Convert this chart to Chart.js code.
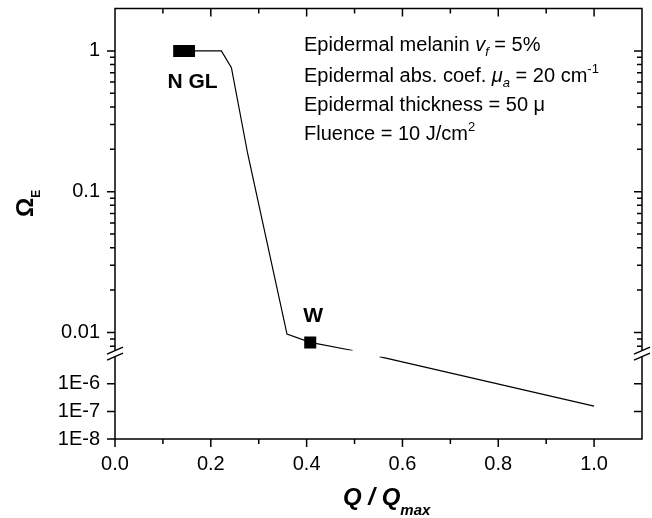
<!DOCTYPE html>
<html>
<head>
<meta charset="utf-8">
<script src="https://cdn.jsdelivr.net/npm/chart.js@4.4.1/dist/chart.umd.min.js"></script>
<style>
  body { margin: 0; background: #fff; }
  #wrap { width: 652px; height: 518px; }
</style>
</head>
<body>
<div id="wrap"><canvas id="chart"></canvas></div>
<script>
// values
const curveUpperX = [0.134, 0.222, 0.243, 0.277, 0.359, 0.4075, 0.496];
const curveUpperY = [1, 1, 0.76, 0.186, 0.00975, 0.0085, 0.00745];
const curveLowerX = [0.552, 1.0];
const curveLowerY = [9.6e-6, 1.56e-7];
const nglX = [0.134, 0.1545];
const nglY = [1, 1];
const wX = [0.4075];
const wY = [0.0085];

// axes
const xTicks = [0, 0.2, 0.4, 0.6, 0.8, 1.0];
const xMinor = [0.1, 0.3, 0.5, 0.7, 0.9];
const yUpperTicks = [0.01, 0.1, 1];
const yUpperLabels = ["0.01", "0.1", "1"];
const yUpperMinor = [0.008, 0.009,
  0.02, 0.03, 0.04, 0.05, 0.06, 0.07, 0.08, 0.09,
  0.2, 0.3, 0.4, 0.5, 0.6, 0.7, 0.8, 0.9];
const yLowerTicks = [1e-8, 1e-7, 1e-6];
const yLowerLabels = ["1E-8", "1E-7", "1E-6"];

const FONT = '"Liberation Sans", Arial, sans-serif';
Chart.defaults.font.family = FONT;
Chart.defaults.color = "#000";

// draw a row of text pieces (sub/superscripts, italics)
function drawRuns(ctx, x, y, runs) {
  for (const r of runs) {
    ctx.font = r.f;
    ctx.fillText(r.t, x, y + (r.dy || 0));
    x += ctx.measureText(r.t).width;
  }
}

const frame = {
  id: "frame",
  afterDraw(chart) {
    const { ctx, chartArea: a, scales } = chart;
    const xs = scales.x, yu = scales.y, yl = scales.y2;
    ctx.save();
    ctx.strokeStyle = "#000";
    ctx.lineWidth = 1.5;
    ctx.beginPath();
    const tickX = (v, len) => {
      const px = xs.getPixelForValue(v);
      ctx.moveTo(px, a.bottom); ctx.lineTo(px, a.bottom + len);
      ctx.moveTo(px, a.top); ctx.lineTo(px, a.top + len);
    };
    const tickY = (sc, v, len) => {
      const py = sc.getPixelForValue(v);
      ctx.moveTo(a.left, py); ctx.lineTo(a.left - len, py);
      ctx.moveTo(a.right, py); ctx.lineTo(a.right - len, py);
    };
    xTicks.forEach(v => tickX(v, 8));
    xMinor.forEach(v => tickX(v, 5));
    yUpperTicks.forEach(v => tickY(yu, v, 8));
    yUpperMinor.forEach(v => tickY(yu, v, 5));
    yLowerTicks.forEach(v => tickY(yl, v, 8));
    ctx.rect(a.left, a.top, a.right - a.left, a.bottom - a.top);
    ctx.stroke();

    // axis break
    const yb = yu.bottom;
    ctx.fillStyle = "#fff";
    ctx.fillRect(a.left - 12, yb - 2.5, a.right - a.left + 24, 6);
    ctx.beginPath();
    [yb - 2.5, yb + 3.5].forEach(y => {
      [a.left, a.right].forEach(x => {
        ctx.moveTo(x - 8, y + 3.5);
        ctx.lineTo(x + 8, y - 3.5);
      });
    });
    ctx.stroke();

    // point labels
    ctx.fillStyle = "#000";
    ctx.textAlign = "center";
    ctx.textBaseline = "alphabetic";
    ctx.font = "bold 21px " + FONT;
    ctx.fillText("N GL", xs.getPixelForValue(0.145) + 8, yu.getPixelForValue(1) + 37);
    ctx.fillText("W", xs.getPixelForValue(wX[0]) + 3, yu.getPixelForValue(wY[0]) - 20);

    // annotation block
    ctx.textAlign = "left";
    const n = "20px " + FONT, it = "italic 20px " + FONT;
    const sm = "13px " + FONT, smi = "italic 13px " + FONT;
    const lines = [
      [{ t: "Epidermal melanin ", f: n }, { t: "v", f: it }, { t: "f", f: smi, dy: 5 }, { t: " = 5%", f: n }],
      [{ t: "Epidermal abs. coef. ", f: n }, { t: "\u03bc", f: it }, { t: "a", f: smi, dy: 5 },
       { t: " = 20 cm", f: n }, { t: "-1", f: sm, dy: -9 }],
      [{ t: "Epidermal thickness = 50 \u03bc", f: n }],
      [{ t: "Fluence = 10 J/cm", f: n }, { t: "2", f: sm, dy: -9 }]
    ];
    const base = [51, 82, 111, 140];
    lines.forEach((l, i) => drawRuns(ctx, 304, base[i], l));

    // x title
    drawRuns(ctx, 343, 505, [
      { t: "Q / Q", f: "italic bold 24px " + FONT },
      { t: "max", f: "italic bold 15px " + FONT, dy: 10 }
    ]);

    // y title, rotated
    ctx.translate(33, 217);
    ctx.rotate(-Math.PI / 2);
    drawRuns(ctx, 0, 0, [
      { t: "\u03a9", f: "bold 24px " + FONT },
      { t: "E", f: "bold 12px " + FONT, dy: 7 }
    ]);
    ctx.restore();
  }
};

const pts = (xs, ys) => xs.map((x, i) => ({ x: x, y: ys[i] }));
const yLabelOpts = labels => ({
  padding: 15,
  autoSkip: false,
  font: { size: 20 },
  color: "#000",
  callback: (v, i) => labels[i]
});

new Chart(document.getElementById("chart"), {
  type: "scatter",
  data: {
    datasets: [
      {
        data: pts(nglX, nglY), yAxisID: "y",
        pointStyle: "rect", pointRadius: 8.5, backgroundColor: "#000", borderWidth: 0
      },
      {
        data: pts(wX, wY), yAxisID: "y",
        pointStyle: "rect", pointRadius: 8.5, backgroundColor: "#000", borderWidth: 0
      },
      {
        data: pts(curveUpperX, curveUpperY), yAxisID: "y", showLine: true,
        borderColor: "#000", borderWidth: 1.2, pointRadius: 0, tension: 0
      },
      {
        data: pts(curveLowerX, curveLowerY), yAxisID: "y2", showLine: true,
        borderColor: "#000", borderWidth: 1.2, pointRadius: 0, tension: 0
      }
    ]
  },
  options: {
    responsive: true,
    maintainAspectRatio: false,
    animation: false,
    layout: { padding: { top: 8, right: 10, left: 0, bottom: 0 } },
    plugins: { legend: { display: false }, tooltip: { enabled: false } },
    scales: {
      x: {
        type: "linear", min: 0, max: 1.1,
        grid: { display: false, drawTicks: false },
        border: { display: false },
        ticks: {
          padding: 13, autoSkip: false, maxRotation: 0, font: { size: 20 }, color: "#000",
          callback: v => v.toFixed(1)
        },
        afterBuildTicks: s => { s.ticks = xTicks.map(v => ({ value: v })); },
        afterFit: s => { s.height = 79; s.paddingLeft = 0; s.paddingRight = 0; }
      },
      y: {
        type: "logarithmic", position: "left", stack: "omega", stackWeight: 345, weight: 2,
        min: 0.00714, max: 2,
        grid: { display: false, drawTicks: false },
        border: { display: false },
        ticks: yLabelOpts(yUpperLabels),
        afterBuildTicks: s => { s.ticks = yUpperTicks.map(v => ({ value: v })); },
        afterFit: s => { s.width = 115; s.paddingTop = 0; s.paddingBottom = 0; }
      },
      y2: {
        type: "logarithmic", position: "left", stack: "omega", stackWeight: 86, weight: 1,
        min: 1e-8, max: 1.29e-5,
        grid: { display: false, drawTicks: false },
        border: { display: false },
        ticks: yLabelOpts(yLowerLabels),
        afterBuildTicks: s => { s.ticks = yLowerTicks.map(v => ({ value: v })); },
        afterFit: s => { s.width = 115; s.paddingTop = 0; s.paddingBottom = 0; }
      }
    }
  },
  plugins: [frame]
});
</script>
</body>
</html>
